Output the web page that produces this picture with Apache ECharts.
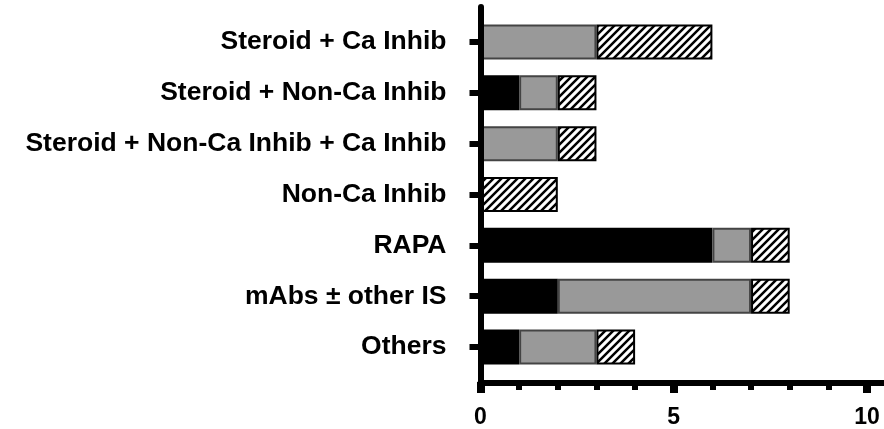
<!DOCTYPE html>
<html>
<head>
<meta charset="utf-8">
<script src="https://cdn.jsdelivr.net/npm/echarts@6/dist/echarts.min.js"></script>
<style>
html,body{margin:0;padding:0;background:#fff;}
#chart{width:884px;height:429px;}
</style>
</head>
<body>
<div id="chart"></div>
<script>
const categories = ['Steroid + Ca Inhib', 'Steroid + Non-Ca Inhib', 'Steroid + Non-Ca Inhib + Ca Inhib', 'Non-Ca Inhib', 'RAPA', 'mAbs \u00b1 other IS', 'Others'];
const blackValues = [0, 1, 0, 0, 6, 2, 1];
const grayValues = [3, 1, 2, 0, 1, 5, 2];
const hatchValues = [3, 1, 1, 2, 1, 1, 1];
const xTickLabels = ['0', '5', '10'];

function hatchPattern() {
  const c = document.createElement('canvas');
  c.width = 8; c.height = 8;
  const g = c.getContext('2d');
  g.fillStyle = '#fff';
  g.fillRect(0, 0, 8, 8);
  g.strokeStyle = '#000';
  g.lineWidth = 2.5;
  g.beginPath();
  g.moveTo(-2, 10); g.lineTo(10, -2);
  g.moveTo(-2, 2); g.lineTo(2, -2);
  g.moveTo(6, 10); g.lineTo(10, 6);
  g.stroke();
  return c;
}
const nz = arr => arr.map(v => (v === 0 ? null : v));

const chart = echarts.init(document.getElementById('chart'));
const catFont = {fontFamily: '"Liberation Sans", Arial, sans-serif', fontWeight: 'bold', fontSize: 26.5, color: '#000'};
chart.setOption({
  animation: false,
  grid: [
    {left: 480.5, right: 17, top: 16.5, bottom: 55.5},
    {left: 480.5, right: 0, top: 7, bottom: 46}
  ],
  xAxis: [
    {
      type: 'value', gridIndex: 0, min: 0, max: 10, interval: 5, offset: 9.5,
      axisLine: {show: false},
      axisTick: {show: true, length: 11, lineStyle: {width: 8, color: '#000'}},
      minorTick: {show: true, splitNumber: 5, length: 8, lineStyle: {width: 6, color: '#000'}},
      splitLine: {show: false},
      axisLabel: {
        margin: 24, fontFamily: '"Liberation Sans", Arial, sans-serif', fontWeight: 'bold', fontSize: 23, color: '#000',
        formatter: v => xTickLabels[Math.round(v / 5)] || ''
      }
    },
    {
      type: 'value', gridIndex: 1, min: 0, max: 10, z: 10,
      axisLine: {show: true, lineStyle: {width: 6, color: '#000'}},
      axisTick: {show: false}, axisLabel: {show: false}, splitLine: {show: false}
    }
  ],
  yAxis: [
    {
      type: 'category', gridIndex: 0, inverse: true, data: categories,
      axisLine: {show: false},
      axisTick: {show: true, alignWithLabel: true, length: 11, lineStyle: {width: 6, color: '#000'}},
      axisLabel: Object.assign({margin: 34, padding: [4, 0, 0, 0]}, catFont),
      splitLine: {show: false}
    },
    {
      type: 'value', gridIndex: 1, z: 10,
      axisLine: {show: true, lineStyle: {width: 6, color: '#000'}},
      axisTick: {show: false}, axisLabel: {show: false}, splitLine: {show: false}
    }
  ],
  series: [
    {
      type: 'bar', stack: 's', xAxisIndex: 0, yAxisIndex: 0, barWidth: 35,
      data: nz(blackValues),
      itemStyle: {color: '#000', borderColor: '#000', borderWidth: 2}
    },
    {
      type: 'bar', stack: 's', xAxisIndex: 0, yAxisIndex: 0, barWidth: 35,
      data: nz(grayValues),
      itemStyle: {color: '#999999', borderColor: '#444', borderWidth: 2}
    },
    {
      type: 'bar', stack: 's', xAxisIndex: 0, yAxisIndex: 0, barWidth: 35,
      data: nz(hatchValues),
      itemStyle: {color: {image: hatchPattern(), repeat: 'repeat'}, borderColor: '#000', borderWidth: 2}
    }
  ]
});
</script>
</body>
</html>
